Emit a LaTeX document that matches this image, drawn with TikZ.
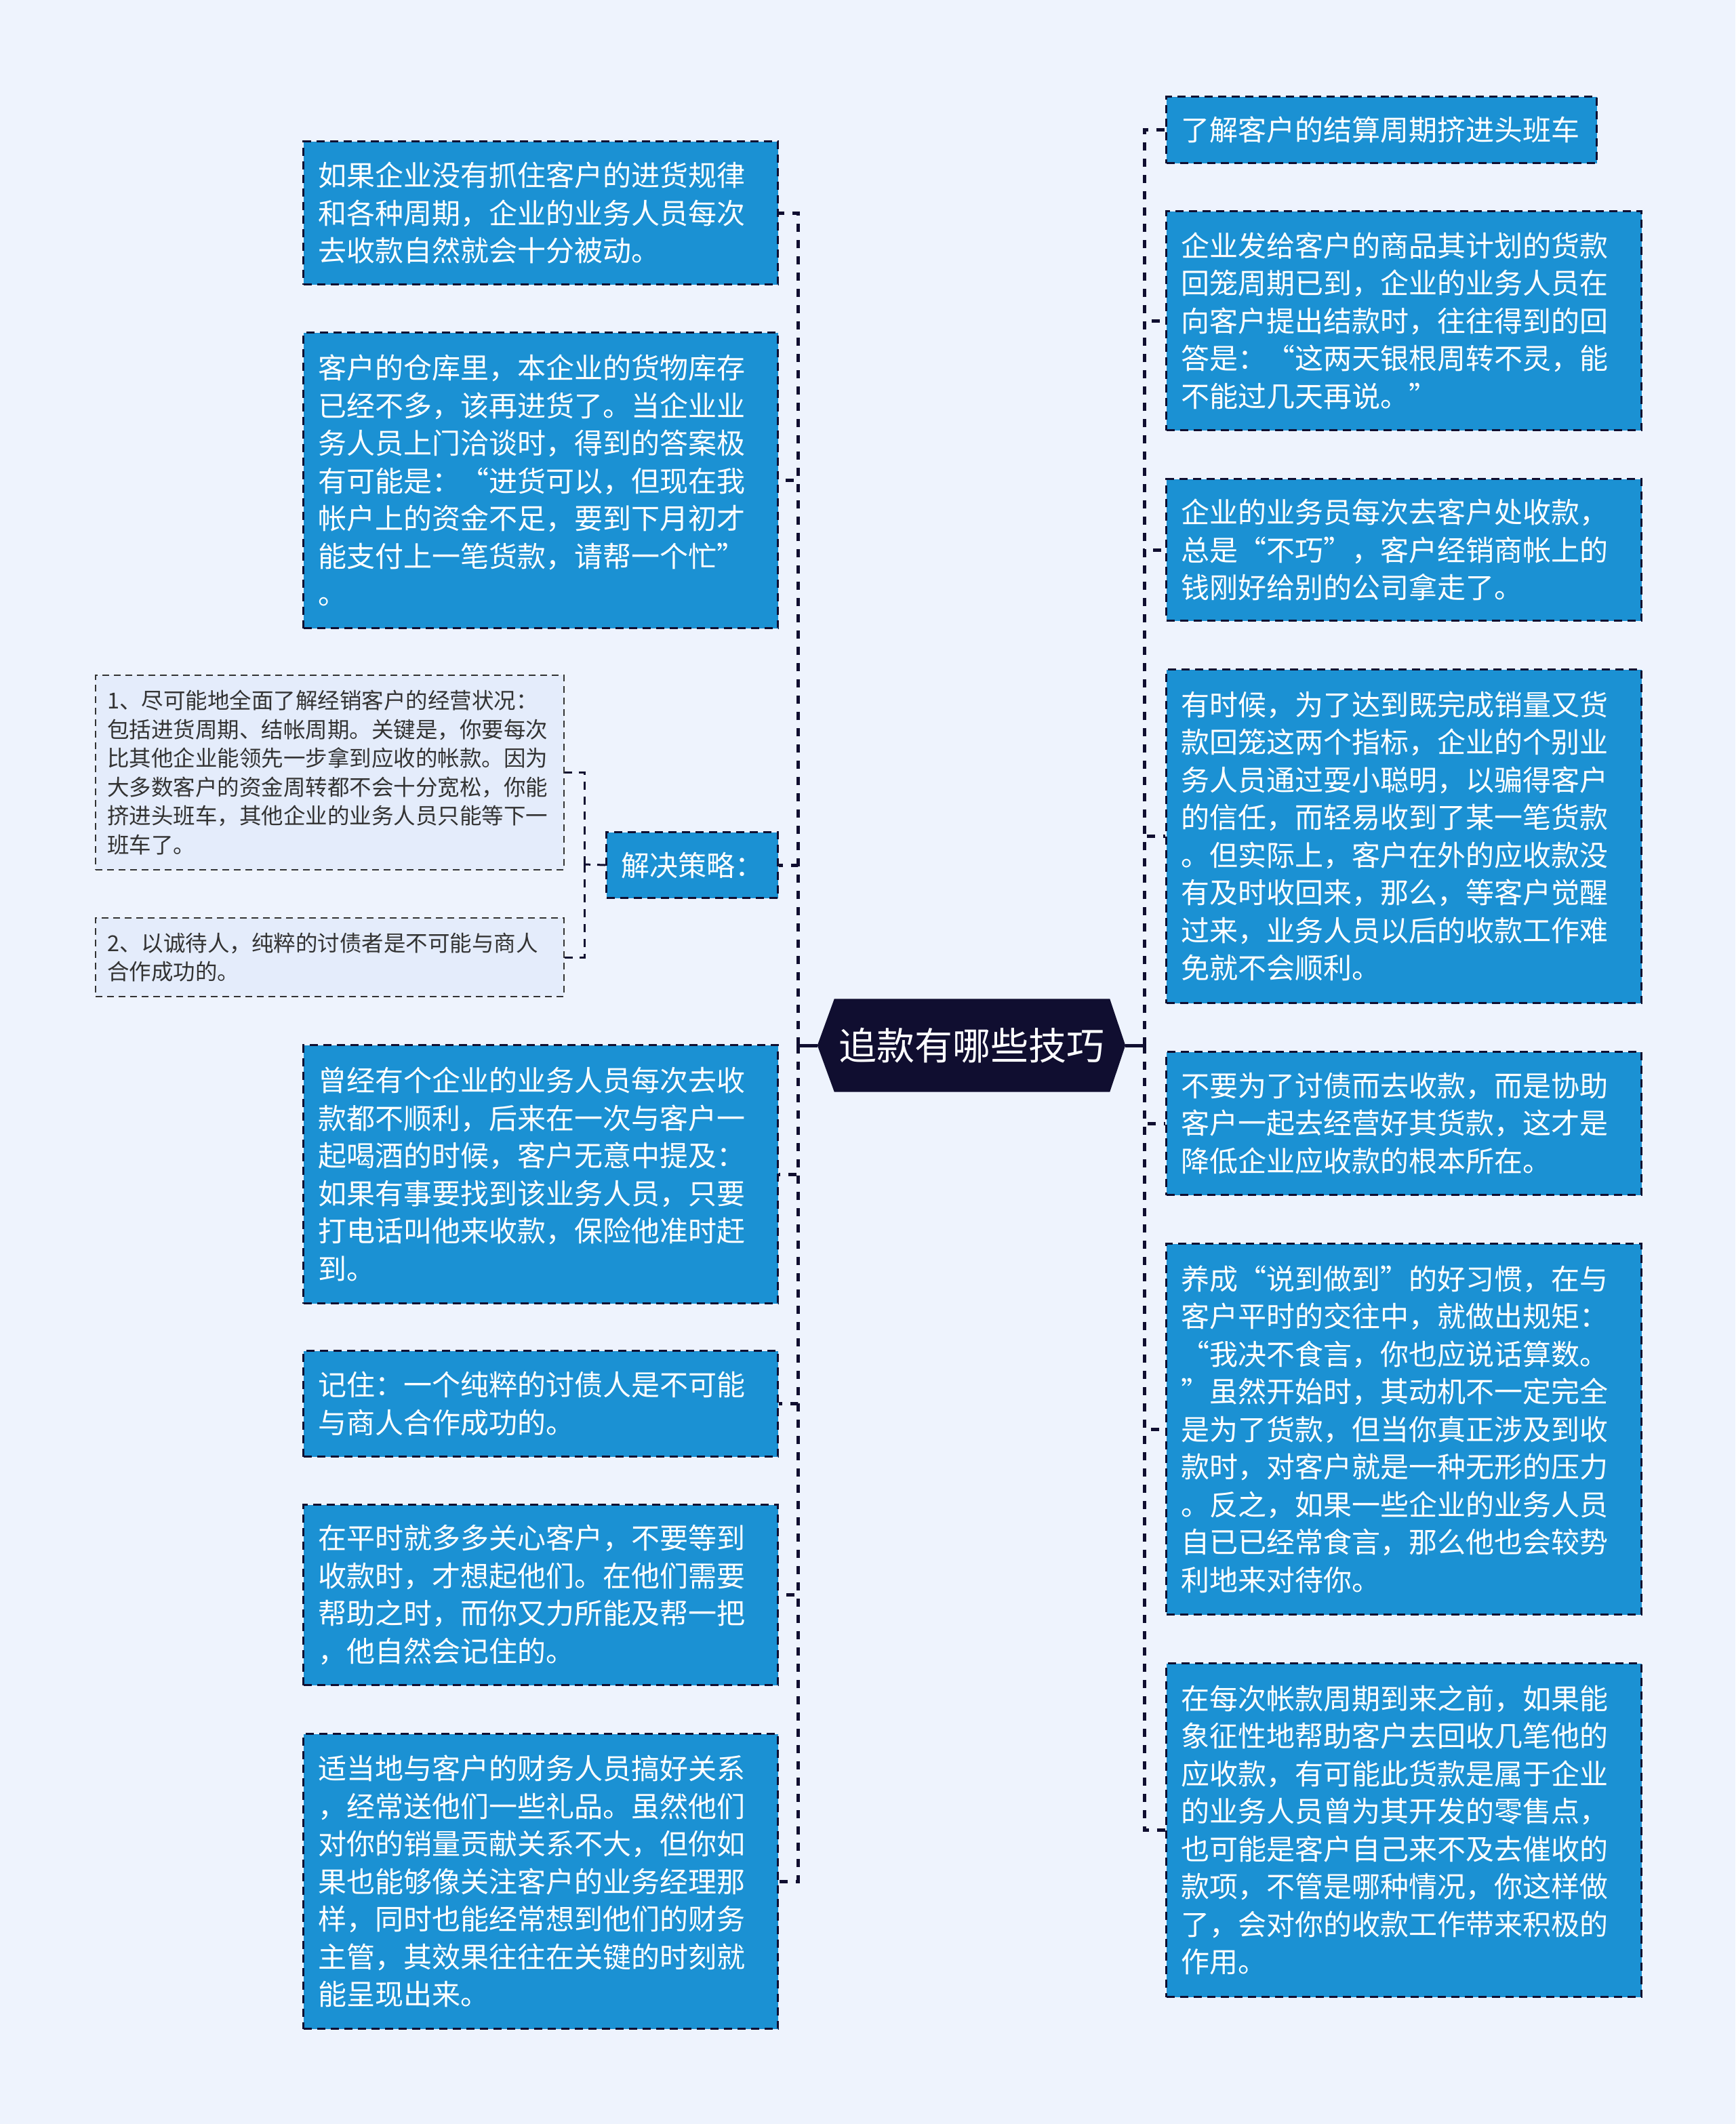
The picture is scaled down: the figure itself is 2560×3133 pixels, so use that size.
\documentclass[tikz,border=0pt]{standalone}
\usepackage{fontspec}
\setmainfont{Noto Sans CJK SC}
\usetikzlibrary{backgrounds}
\definecolor{bgc}{RGB}{238,243,253}
\definecolor{boxc}{RGB}{27,145,211}
\definecolor{navy}{RGB}{16,14,48}
\definecolor{lightc}{RGB}{228,236,251}
\definecolor{txtc}{RGB}{51,51,51}
\begin{document}
\begin{tikzpicture}[x=1pt,y=-1pt,
  blk/.style={draw=navy, fill=boxc, line width=3pt, dash pattern=on 12pt off 8pt,
    text=white, font=\fontsize{42}{55.5}\selectfont, align=left, anchor=north west,
    inner xsep=22pt, inner ysep=0pt},
  sml/.style={draw=txtc, fill=lightc, line width=2pt, dash pattern=on 10pt off 7pt,
    text=txtc, font=\fontsize{32.5}{42.5}\selectfont, align=left, anchor=north west,
    inner xsep=17pt, inner ysep=0pt},
  conn/.style={draw=navy, line width=5pt, dash pattern=on 12pt off 12pt},
  subc/.style={draw=navy, line width=3pt, dash pattern=on 12pt off 10pt},
  solidc/.style={draw=navy, line width=5pt}]
\useasboundingbox (0,0) rectangle (2560,3133);

% centre
\node[text=white, font=\fontsize{56}{60}\selectfont, minimum width=454pt, minimum height=137pt, inner sep=0pt] (C) at (1433,1542) {追款有哪些技巧};

% left column
\node[blk, text width=656pt, minimum height=211pt] (L1) at (446,207) {如果企业没有抓住客户的进货规律\\和各种周期，企业的业务人员每次\\去收款自然就会十分被动。};
\node[blk, text width=656pt, minimum height=436pt] (L2) at (446,489) {客户的仓库里，本企业的货物库存\\已经不多，该再进货了。当企业业\\务人员上门洽谈时，得到的答案极\\有可能是：“进货可以，但现在我\\帐户上的资金不足，要到下月初才\\能支付上一笔货款，请帮一个忙”\\。};
\node[blk, text width=209pt, minimum height=97pt] (L3) at (893,1226) {解决策略：};
\node[blk, text width=656pt, minimum height=381pt] (L4) at (446,1540) {曾经有个企业的业务人员每次去收\\款都不顺利，后来在一次与客户一\\起喝酒的时候，客户无意中提及：\\如果有事要找到该业务人员，只要\\打电话叫他来收款，保险他准时赶\\到。};
\node[blk, text width=656pt, minimum height=156pt] (L5) at (446,1991) {记住：一个纯粹的讨债人是不可能\\与商人合作成功的。};
\node[blk, text width=656pt, minimum height=266pt] (L6) at (446,2218) {在平时就多多关心客户，不要等到\\收款时，才想起他们。在他们需要\\帮助之时，而你又力所能及帮一把\\，他自然会记住的。};
\node[blk, text width=656pt, minimum height=435pt] (L7) at (446,2556) {适当地与客户的财务人员搞好关系\\，经常送他们一些礼品。虽然他们\\对你的销量贡献关系不大，但你如\\果也能够像关注客户的业务经理那\\样，同时也能经常想到他们的财务\\主管，其效果往往在关键的时刻就\\能呈现出来。};

% sub boxes
\node[sml, text width=657pt, minimum height=287pt] (Sa) at (140,995) {1、尽可能地全面了解经销客户的经营状况：\\包括进货周期、结帐周期。关键是，你要每次\\比其他企业能领先一步拿到应收的帐款。因为\\大多数客户的资金周转都不会十分宽松，你能\\挤进头班车，其他企业的业务人员只能等下一\\班车了。};
\node[sml, text width=657pt, minimum height=116pt] (Sb) at (140,1353) {2、以诚待人，纯粹的讨债者是不可能与商人\\合作成功的。};

% right column
\node[blk, text width=591pt, minimum height=98pt] (R1) at (1719,141) {了解客户的结算周期挤进头班车};
\node[blk, text width=657pt, minimum height=323pt] (R2) at (1719,310) {企业发给客户的商品其计划的货款\\回笼周期已到，企业的业务人员在\\向客户提出结款时，往往得到的回\\答是：“这两天银根周转不灵，能\\不能过几天再说。”};
\node[blk, text width=657pt, minimum height=209pt] (R3) at (1719,705) {企业的业务员每次去客户处收款，\\总是“不巧”，客户经销商帐上的\\钱刚好给别的公司拿走了。};
\node[blk, text width=657pt, minimum height=492pt] (R4) at (1719,986) {有时候，为了达到既完成销量又货\\款回笼这两个指标，企业的个别业\\务人员通过耍小聪明，以骗得客户\\的信任，而轻易收到了某一笔货款\\。但实际上，客户在外的应收款没\\有及时收回来，那么，等客户觉醒\\过来，业务人员以后的收款工作难\\免就不会顺利。};
\node[blk, text width=657pt, minimum height=211pt] (R5) at (1719,1550) {不要为了讨债而去收款，而是协助\\客户一起去经营好其货款，这才是\\降低企业应收款的根本所在。};
\node[blk, text width=657pt, minimum height=547pt] (R6) at (1719,1833) {养成“说到做到”的好习惯，在与\\客户平时的交往中，就做出规矩：\\“我决不食言，你也应说话算数。\\”虽然开始时，其动机不一定完全\\是为了货款，但当你真正涉及到收\\款时，对客户就是一种无形的压力\\。反之，如果一些企业的业务人员\\自已已经常食言，那么他也会较势\\利地来对待你。};
\node[blk, text width=657pt, minimum height=492pt] (R7) at (1719,2452) {在每次帐款周期到来之前，如果能\\象征性地帮助客户去回收几笔他的\\应收款，有可能此货款是属于企业\\的业务人员曾为其开发的零售点，\\也可能是客户自己来不及去催收的\\款项，不管是哪种情况，你这样做\\了，会对你的收款工作带来积极的\\作用。};

% connectors
\coordinate (jl) at (1177,1542);
\coordinate (jr) at (1688,1542);
\coordinate (js) at (862,1275);
\draw[solidc] (C.west) -- (jl);
\draw[solidc] (C.east) -- (jr);
\foreach \n in {L1,L2,L3,L4,L5,L6,L7} \draw[conn] (jl) |- (\n.east);
\foreach \n in {R1,R2,R3,R4,R5,R6,R7} \draw[conn] (jr) |- (\n.west);
\draw[subc] (L3.west) -- (js);
\draw[subc] (js) |- (Sa.east);
\draw[subc] (js) |- (Sb.east);

\begin{pgfonlayer}{background}
\fill[bgc] (0,0) rectangle (2560,3133);
\fill[navy] (C.west) -- ([xshift=25pt]C.north west) -- ([xshift=-23pt]C.north east) -- (C.east) -- ([xshift=-23pt]C.south east) -- ([xshift=25pt]C.south west) -- cycle;
\end{pgfonlayer}
\end{tikzpicture}
\end{document}
